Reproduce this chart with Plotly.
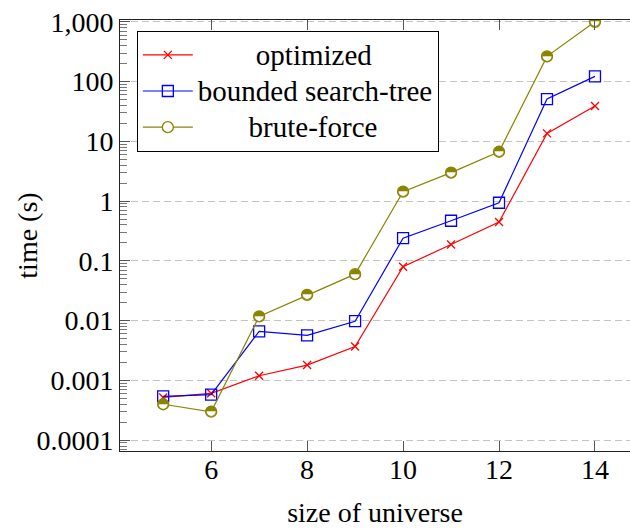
import plotly.graph_objects as go

# Running time per universe size for the three solvers
universe_size = [5, 6, 7, 8, 9, 10, 11, 12, 13, 14]
optimized = [0.00052, 0.00061, 0.00120, 0.00181, 0.0037, 0.080, 0.188, 0.447, 13.6, 39]
bounded_search_tree = [0.00054, 0.00058, 0.0066, 0.0057, 0.0098, 0.24, 0.47, 0.94, 51, 122]
brute_force = [0.00040, 0.00030, 0.0118, 0.027, 0.060, 1.44, 3.0, 6.7, 264, 1000]

x_ticks = [6, 8, 10, 12, 14]
y_tickvals = [1e-4, 1e-3, 1e-2, 1e-1, 1, 10, 100, 1000]
y_ticktext = ["0.0001", "0.001", "0.01", "0.1", "1", "10", "100", "1,000"]

RED = "#ff0000"
BLUE = "#0000ff"
OLIVE = "#8a8500"
FONT = "Liberation Serif"
NB = "\u00a0"


def legend_label(text, pad):
    # centred legend labels: pad with non-breaking spaces, larger type than row pitch
    return '<span style="font-size:29px">' + NB * pad + text + "</span>"


fig = go.Figure()

fig.add_trace(go.Scatter(
    x=universe_size, y=optimized, mode="lines+markers",
    name=legend_label("optimized", 8),
    line=dict(color=RED, width=1.2),
    marker=dict(symbol="x-thin", size=8, line=dict(color=RED, width=1.3), color=RED),
))
fig.add_trace(go.Scatter(
    x=universe_size, y=bounded_search_tree, mode="lines+markers",
    name=legend_label("bounded search-tree", 0),
    line=dict(color=BLUE, width=1.2),
    marker=dict(symbol="square-open", size=11, color=BLUE, line=dict(color=BLUE, width=1.3)),
))
fig.add_trace(go.Scatter(
    x=universe_size, y=brute_force, mode="lines+markers",
    name=legend_label("brute-force", 7),
    line=dict(color=OLIVE, width=1.2),
    marker=dict(symbol="circle", size=11, color="white", line=dict(color=OLIVE, width=1.3)),
))
# upper-half filled circle glyph on top of the brute-force markers
fig.add_trace(go.Scatter(
    x=universe_size, y=brute_force, mode="text",
    text=["\u25d3"] * len(universe_size),
    textposition="middle center",
    textfont=dict(family="DejaVu Sans", size=14, color=OLIVE),
    showlegend=False, hoverinfo="skip",
))

fig.update_layout(
    width=630, height=532,
    margin=dict(l=120, r=0, t=20, b=81, autoexpand=False),
    paper_bgcolor="white", plot_bgcolor="white",
    font=dict(family=FONT, size=28, color="black"),
    showlegend=True,
    legend=dict(
        x=0.033, y=0.975, xanchor="left", yanchor="top",
        bgcolor="white", bordercolor="black", borderwidth=1,
        font=dict(family=FONT, size=25.5, color="black"),
        itemwidth=50, tracegroupgap=0,
    ),
)

# vertical axis title
fig.add_annotation(
    text="time (s)", textangle=-90, showarrow=False,
    xref="paper", yref="paper", x=-0.182, y=0.5,
    xanchor="center", yanchor="middle",
    font=dict(family=FONT, size=28, color="black"),
)

fig.update_xaxes(
    range=[4.1, 14.73],
    tickmode="array", tickvals=x_ticks,
    ticks="inside", ticklen=10, tickcolor="#555", tickwidth=1,
    ticklabelstandoff=-7,
    showline=True, linecolor="#222", linewidth=1, mirror="ticks",
    showgrid=False, zeroline=False,
    tickfont=dict(family=FONT, size=28),
    title=dict(text="size of universe", font=dict(family=FONT, size=28), standoff=18),
)
fig.update_yaxes(
    type="log", range=[-4.18, 3.03],
    tickmode="array", tickvals=y_tickvals, ticktext=y_ticktext,
    ticks="inside", ticklen=10, tickcolor="#555", tickwidth=1,
    minor=dict(ticks="inside", ticklen=7, tickcolor="#777", dtick="D1", showgrid=False),
    showline=True, linecolor="#222", linewidth=1, mirror=False,
    showgrid=True, gridcolor="#c4c4c4", gridwidth=1, griddash="7px,4px",
    zeroline=False,
    tickfont=dict(family=FONT, size=28),
)

fig.write_html("out.html")
